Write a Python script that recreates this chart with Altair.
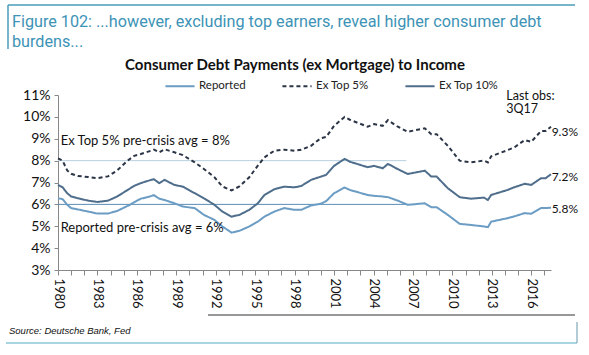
import altair as alt
import pandas as pd

years = [1980.0, 1980.35, 1980.7, 1981.0, 1981.5, 1982.3, 1983.0, 1983.8, 1984.5, 1985.3,
         1985.8, 1986.3, 1986.8, 1987.3, 1987.7, 1988.1, 1988.85, 1989.5, 1990.4, 1991.1,
         1991.9, 1992.5, 1993.2, 1993.8, 1994.55, 1995.2, 1995.7, 1996.45, 1997.2, 1998.0,
         1998.5, 1999.25, 2000.0, 2000.4, 2001.0, 2001.8, 2002.2, 2003.55, 2004.05, 2004.7,
         2005.1, 2005.85, 2006.6, 2007.9, 2008.4, 2008.8, 2009.65, 2010.55, 2011.4, 2012.4,
         2012.7, 2012.95, 2014.2, 2014.7, 2015.5, 2016.0, 2016.75, 2017.1, 2017.5]

ex_top5 = [8.1, 8.0, 7.55, 7.4, 7.3, 7.25, 7.2, 7.28, 7.55, 8.0,
           8.22, 8.3, 8.4, 8.5, 8.38, 8.52, 8.38, 8.25, 7.92, 7.62,
           7.24, 6.82, 6.64, 6.82, 7.24, 7.77, 8.15, 8.45, 8.5, 8.45,
           8.5, 8.68, 9.03, 9.08, 9.59, 10.0, 9.87, 9.55, 9.67, 9.59,
           9.85, 9.55, 9.32, 9.48, 9.21, 9.21, 8.68, 8.0, 7.92, 8.0,
           7.92, 8.2, 8.48, 8.6, 8.94, 8.86, 9.36, 9.36, 9.55]

ex_top10 = [6.89, 6.78, 6.51, 6.36, 6.28, 6.17, 6.11, 6.17, 6.36, 6.66,
            6.85, 6.97, 7.07, 7.15, 6.97, 7.12, 6.89, 6.81, 6.51, 6.28,
            5.98, 5.67, 5.44, 5.52, 5.75, 6.05, 6.43, 6.69, 6.81, 6.78,
            6.84, 7.12, 7.27, 7.35, 7.76, 8.08, 7.95, 7.7, 7.76, 7.65,
            7.85, 7.61, 7.39, 7.54, 7.27, 7.27, 6.74, 6.33, 6.26, 6.31,
            6.2, 6.43, 6.66, 6.78, 6.94, 6.89, 7.2, 7.2, 7.38]

reported = [6.28, 6.24, 5.98, 5.83, 5.77, 5.67, 5.58, 5.58, 5.7, 5.93,
            6.1, 6.26, 6.33, 6.42, 6.26, 6.2, 6.05, 5.9, 5.83, 5.52,
            5.29, 4.99, 4.71, 4.79, 4.99, 5.21, 5.44, 5.67, 5.83, 5.75,
            5.75, 5.95, 6.03, 6.15, 6.51, 6.77, 6.66, 6.43, 6.39, 6.36,
            6.33, 6.17, 5.98, 6.05, 5.87, 5.87, 5.52, 5.11, 5.06, 4.99,
            4.96, 5.21, 5.37, 5.45, 5.6, 5.57, 5.83, 5.83, 5.85]

series_names = ["Reported", "Ex Top 5%", "Ex Top 10%"]
series_colors = ["#6b9cc4", "#2b3546", "#4f6e8c"]
series_dash = [[1, 0], [4, 3], [1, 0]]

avg_lines = [8.0, 6.0]
avg_colors = ["#b9cfde", "#5a8cb4"]
avg_start, avg_end = 1980.0, 2006.5

avg_labels = ["Ex Top 5% pre-crisis avg = 8%", "Reported pre-crisis avg = 6%"]
avg_label_y = [8.9, 4.93]

last_labels = ["9.3%", "7.2%", "5.8%"]
last_label_y = [9.3, 7.25, 5.8]

obs_labels = ["Last obs:", "3Q17"]
obs_label_y = [10.97, 10.35]

x_ticks = list(range(1980, 2018))
y_ticks = list(range(3, 12))

df = pd.DataFrame({"year": years, "Reported": reported,
                   "Ex Top 5%": ex_top5, "Ex Top 10%": ex_top10})
long = df.melt("year", var_name="series", value_name="value")

FONT = "Lato"

x_axis = alt.Axis(values=x_ticks, format="d",
                  labelExpr="(datum.value - 1980) % 3 == 0 ? datum.label : ''",
                  labelAngle=90, labelFontSize=13, labelFont=FONT, labelColor="#111",
                  labelOverlap=False, labelBound=False, labelPadding=3,
                  tickSize=5, tickColor="#888", domainColor="#888",
                  grid=False, title=None)
y_axis = alt.Axis(values=y_ticks, labelExpr="datum.value + '%'",
                  labelFontSize=14, labelFont=FONT, labelColor="#111",
                  labelOverlap=False, tickSize=4, tickColor="#888", domainColor="#888",
                  grid=False, title=None, labelPadding=4)
x_scale = alt.Scale(domain=[1980, 2017.5], nice=False, zero=False)
y_scale = alt.Scale(domain=[3, 11], nice=False, zero=False)


def X():
    return alt.X("year:Q", scale=x_scale, axis=x_axis)


def Y():
    return alt.Y("value:Q", scale=y_scale, axis=y_axis)


legend = alt.Legend(orient="none", legendX=106, legendY=-25,
                    direction="horizontal", title=None,
                    symbolType="stroke", symbolSize=850,
                    symbolStrokeWidth=2, labelFont=FONT, labelFontWeight="normal",
                    labelFontSize=11.5, labelColor="#222",
                    columnPadding=32, labelOffset=3)

lines = alt.Chart(long).mark_line(strokeWidth=2).encode(
    x=X(), y=Y(),
    color=alt.Color("series:N", scale=alt.Scale(domain=series_names, range=series_colors),
                    legend=legend),
    strokeDash=alt.StrokeDash("series:N",
                              scale=alt.Scale(domain=series_names, range=series_dash),
                              legend=legend),
    order=alt.Order("year:Q"),
)

avg_df = pd.DataFrame({"value": avg_lines, "year": [avg_start] * 2,
                       "year2": [avg_end] * 2, "c": avg_colors})
avg = alt.Chart(avg_df).mark_rule(strokeWidth=1).encode(
    x=X(), x2="year2:Q", y=Y(), stroke=alt.Stroke("c:N", scale=None, legend=None))

ann_df = pd.DataFrame({"year": [1980.2, 1980.2], "value": avg_label_y, "t": avg_labels})
ann = alt.Chart(ann_df).mark_text(align="left", baseline="middle", font=FONT,
                                  fontSize=13, color="#111").encode(
    x=X(), y=Y(), text="t:N")

last_df = pd.DataFrame({"year": [2017.55] * 3, "value": last_label_y, "t": last_labels})
last = alt.Chart(last_df).mark_text(align="left", baseline="middle", font=FONT,
                                    fontSize=12, color="#111").encode(
    x=X(), y=Y(), text="t:N")

obs_df = pd.DataFrame({"year": [2014.1, 2014.1], "value": obs_label_y, "t": obs_labels})
obs = alt.Chart(obs_df).mark_text(align="left", baseline="middle", font=FONT,
                                  fontSize=12.5, color="#111").encode(
    x=X(), y=Y(), text="t:N")

one = pd.DataFrame({"a": [0]})


def text_at(px, py, txt, **kw):
    return alt.Chart(one).mark_text(text=txt, **kw).encode(
        x=alt.value(px), y=alt.value(py))


def rule_at(x1, x2, y1, y2, color, w=1):
    return alt.Chart(one).mark_rule(color=color, strokeWidth=w).encode(
        x=alt.value(x1), x2=alt.value(x2), y=alt.value(y1), y2=alt.value(y2))


cap1 = text_at(-46, -73, "Figure 102: ...however, excluding top earners, reveal higher consumer debt",
               align="left", baseline="middle", font="Roboto", fontSize=16.2, color="#3d93b6")
cap2 = text_at(-46, -53, "burdens...", align="left", baseline="middle", font="Roboto",
               fontSize=16.2, color="#3d93b6")
ctitle = text_at(237, -30, "Consumer Debt Payments (ex Mortgage) to Income",
                 align="center", baseline="middle", font=FONT, fontSize=15,
                 fontWeight="bold", color="#111")
src = text_at(-49, 236, "Source: Deutsche Bank, Fed", align="left", baseline="middle",
              font="Liberation Sans", fontSize=9.5, fontStyle="italic", color="#111")

frame = [
    rule_at(-50, 517, -90, -90, "#4a9cb8", 1.5),
    rule_at(-50, -50, -90, -46, "#4a9cb8", 1.5),
    rule_at(150, 517, 220, 220, "#333333", 1.2),
    rule_at(-52, 519, 248, 248, "#8ac6d6", 1.5),
    rule_at(519, 519, 227, 248, "#7fa8b8", 1.2),
]

chart = alt.layer(avg, lines, ann, last, obs, cap1, cap2, ctitle, src, *frame).properties(
    width=493, height=175,
    autosize=alt.AutoSizeParams(type="none"),
    padding={"left": 58, "top": 95, "right": 38, "bottom": 85},
).configure_view(stroke=None)

chart.save("out.html", embed_options={"renderer": "svg", "actions": False})
